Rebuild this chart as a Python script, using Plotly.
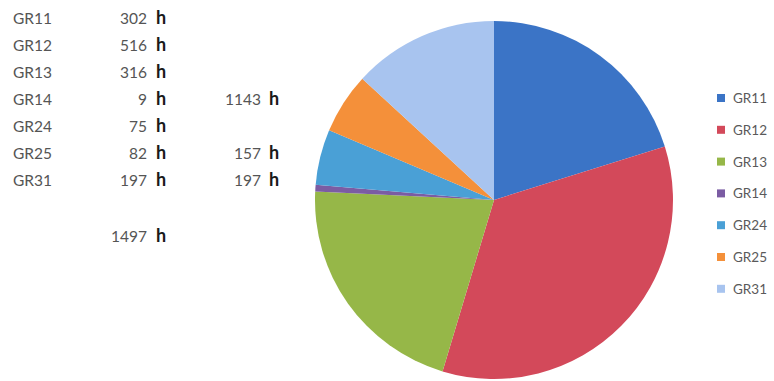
import plotly.graph_objects as go

labels = ["GR11", "GR12", "GR13", "GR14", "GR24", "GR25", "GR31"]
hours = [302, 516, 316, 9, 75, 82, 197]
group_rows = ["GR14", "GR25", "GR31"]
group_sums = [1143, 157, 197]
total_hours = 1497
colors = ["#3b74c6", "#d3495a", "#96b748", "#7b5ca3", "#4aa0d6", "#f4903a", "#a8c4ef"]

W, H = 774, 381
fig = go.Figure()

cx, cy, r = 494, 200, 179
fig.add_trace(go.Pie(
    labels=labels, values=hours, sort=False, direction="clockwise", rotation=0,
    marker=dict(colors=colors, line=dict(width=0)),
    textinfo="none", hoverinfo="label+value", showlegend=False,
    domain=dict(x=[(cx - r) / W, (cx + r) / W], y=[(H - cy - r) / H, (H - cy + r) / H]),
))

row_y = [18, 45, 72, 99, 126, 153, 180]
lab_font = dict(family="Lato, Open Sans, sans-serif", size=15.5, color="#555555")
h_font = dict(family="Lato, Open Sans, sans-serif", size=18, color="#1a1a1a")
ann = []

def px(x):
    return x / W

def py(y):
    return 1 - y / H

for lab, v, y in zip(labels, hours, row_y):
    ann.append(dict(x=px(11), y=py(y), text=lab, xanchor="left", yanchor="middle", showarrow=False, font=lab_font))
    ann.append(dict(x=px(149), y=py(y), text=str(v), xanchor="right", yanchor="middle", showarrow=False, font=lab_font))
    ann.append(dict(x=px(154), y=py(y - 1), text="<b>h</b>", xanchor="left", yanchor="middle", showarrow=False, font=h_font))

for lab, s in zip(group_rows, group_sums):
    y = row_y[labels.index(lab)]
    ann.append(dict(x=px(263), y=py(y), text=str(s), xanchor="right", yanchor="middle", showarrow=False, font=lab_font))
    ann.append(dict(x=px(267), y=py(y - 1), text="<b>h</b>", xanchor="left", yanchor="middle", showarrow=False, font=h_font))

ann.append(dict(x=px(149), y=py(236), text=str(total_hours), xanchor="right", yanchor="middle", showarrow=False, font=lab_font))
ann.append(dict(x=px(154), y=py(235), text="<b>h</b>", xanchor="left", yanchor="middle", showarrow=False, font=h_font))

# legend
shapes = []
leg_y0, leg_dy = 98, 31.8
leg_font = dict(family="Lato, Open Sans, sans-serif", size=13.5, color="#5a5a5a")
for i, (lab, c) in enumerate(zip(labels, colors)):
    y = leg_y0 + i * leg_dy
    shapes.append(dict(type="rect", xref="paper", yref="paper",
                       x0=px(717), x1=px(725), y0=py(y + 4), y1=py(y - 4),
                       fillcolor=c, line=dict(width=0)))
    ann.append(dict(x=px(731), y=py(y), text=lab, xanchor="left", yanchor="middle", showarrow=False, font=leg_font))

fig.update_layout(
    width=W, height=H, margin=dict(l=0, r=0, t=0, b=0),
    paper_bgcolor="white", plot_bgcolor="white",
    annotations=ann, shapes=shapes, showlegend=False,
)
fig.write_html("out.html")
